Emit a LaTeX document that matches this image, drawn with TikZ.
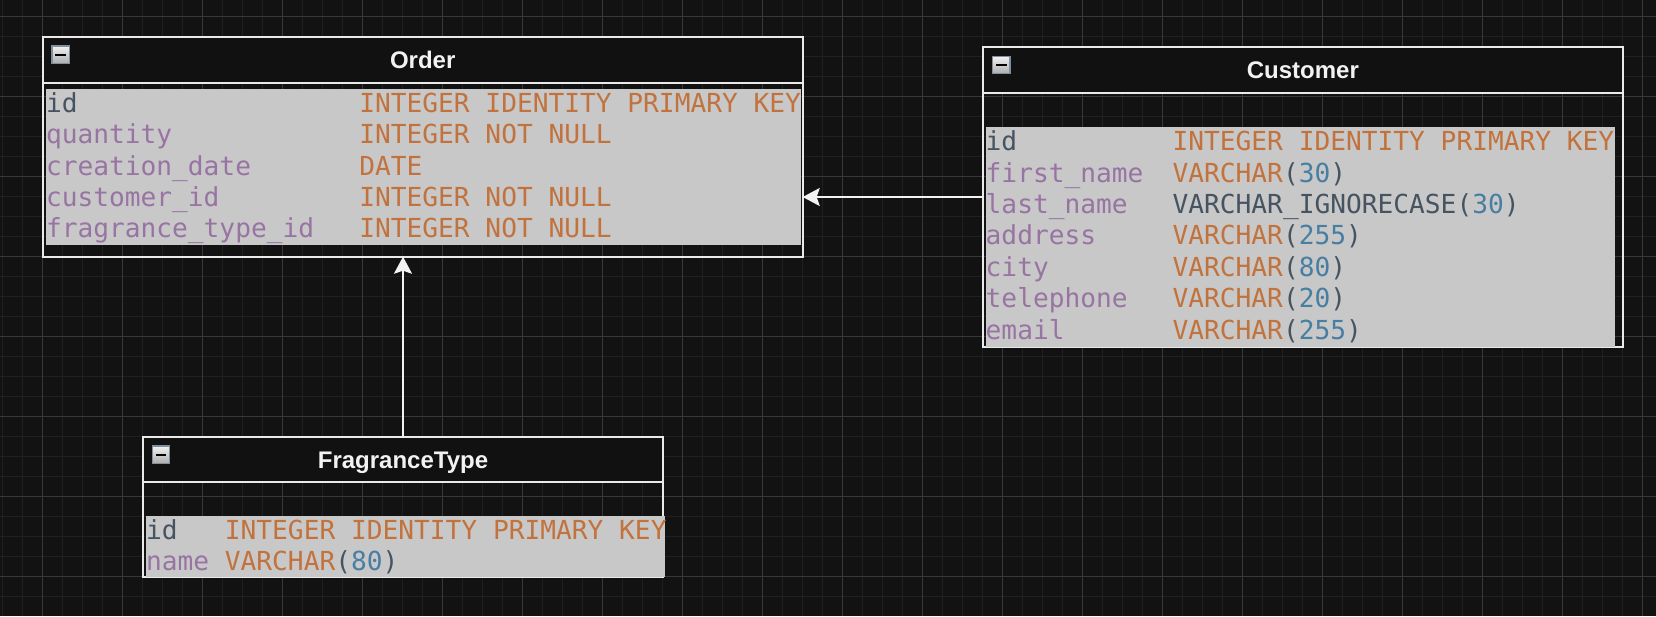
\documentclass[tikz,border=0pt]{standalone}
\usepackage{fontspec}
\setmainfont{Liberation Sans}
\newfontfamily\codefont{DejaVu Sans Mono}
\usetikzlibrary{arrows.meta,positioning}

\definecolor{canvas}{RGB}{18,18,18}
\definecolor{gridminor}{RGB}{32,32,32}
\definecolor{gridmajor}{RGB}{56,56,56}
\definecolor{headfill}{RGB}{17,17,17}
\definecolor{edge}{RGB}{234,234,234}
\definecolor{rowfill}{RGB}{200,200,200}
\definecolor{iconedge}{RGB}{128,142,158}
\definecolor{colname}{RGB}{152,116,163}
\definecolor{colid}{RGB}{70,84,98}
\definecolor{coltype}{RGB}{194,114,60}
\definecolor{colnum}{RGB}{72,126,162}

\newcommand{\sqlkey}[1]{\textcolor{colid}{#1}}
\newcommand{\sqlname}[1]{\textcolor{colname}{#1}}
\newcommand{\sqltype}[1]{\textcolor{coltype}{#1}}
\newcommand{\sqlsize}[2]{\textcolor{coltype}{#1}\textcolor{colid}{(}\textcolor{colnum}{#2}\textcolor{colid}{)}}

\begin{document}
\begin{tikzpicture}[x=1pt, y=-1pt,
    erbox/.style={rectangle, draw=edge, line width=2pt, inner sep=0pt, outer sep=0pt, anchor=north west},
    erbody/.style={rectangle, fill=rowfill, inner sep=0pt, outer sep=0pt, anchor=north west},
    erhead/.style={rectangle, draw=edge, fill=headfill, line width=2pt, inner sep=0pt, outer sep=0pt,
        anchor=north west, minimum height=46pt, text height=17.2pt, text depth=0pt,
        text={rgb,255:red,242;green,242;blue,242}, font=\bfseries\fontsize{24}{28}\selectfont},
    minusicon/.style={rectangle, anchor=north west, minimum size=17.5pt, inner sep=0pt, outer sep=0pt,
        draw=iconedge, line width=1.2pt, top color=white!90!gray, bottom color=gray!65,
        path picture={\fill[black] ([xshift=-5.3pt, yshift=-1pt]path picture bounding box.center)
            rectangle ([xshift=5.3pt, yshift=1pt]path picture bounding box.center);}},
    errow/.style={inner sep=0pt, outer sep=0pt, anchor=base west, font=\codefont\fontsize{26.2}{31}\selectfont},
    erlink/.style={draw={rgb,255:red,242;green,242;blue,242}, line width=2pt,
        -{Stealth[length=17pt, width=18pt, inset=3pt]}}]
        % Canvas
        \useasboundingbox (0,0) rectangle (1656,616);
        \fill[canvas] (0,0) rectangle (1656,616);
        \foreach \gx in {2.5,22.5,...,1656} \draw[gridminor, line width=1pt] (\gx,0) -- (\gx,616);
        \foreach \gy in {16.7,36.7,...,616} \draw[gridminor, line width=1pt] (0,\gy) -- (1656,\gy);
        \foreach \gx in {42.5,122.5,...,1656} \draw[gridmajor, line width=1pt] (\gx,0) -- (\gx,616);
        \foreach \gy in {16.7,96.7,...,616} \draw[gridmajor, line width=1pt] (0,\gy) -- (1656,\gy);
        % Order
        \node (order) [erbox, minimum width=760pt, minimum height=220pt] at (42.7,36.7) {};
        \node (order-body) [erbody, minimum width=755pt, minimum height=156pt] at (46,89) {};
        \node (order-head) [erhead, minimum width=760pt] at (42.7,36.7) {Order};
        \node (order-icon) [minusicon] at (52,46) {};
        \node (order-id) [errow] at (46,112.7) {\makebox[313.3pt][l]{\sqlkey{id}}\sqltype{INTEGER IDENTITY PRIMARY KEY}};
        \node (order-quantity) [errow] at (46,143.9) {\makebox[313.3pt][l]{\sqlname{quantity}}\sqltype{INTEGER NOT NULL}};
        \node (order-date) [errow] at (46,175.1) {\makebox[313.3pt][l]{\sqlname{creation\_date}}\sqltype{DATE}};
        \node (order-customer) [errow] at (46,206.3) {\makebox[313.3pt][l]{\sqlname{customer\_id}}\sqltype{INTEGER NOT NULL}};
        \node (order-fragrance) [errow] at (46,237.5) {\makebox[313.3pt][l]{\sqlname{fragrance\_type\_id}}\sqltype{INTEGER NOT NULL}};
        % Customer
        \node (customer) [erbox, minimum width=640.3pt, minimum height=300pt] at (982.7,47) {};
        \node (customer-body) [erbody, minimum width=629pt, minimum height=220pt] at (985.7,127) {};
        \node (customer-head) [erhead, minimum width=640.3pt] at (982.7,47) {Customer};
        \node (customer-icon) [minusicon] at (992.5,56.3) {};
        \node (customer-id) [errow] at (985.7,150.7) {\makebox[186.9pt][l]{\sqlkey{id}}\sqltype{INTEGER IDENTITY PRIMARY KEY}};
        \node (customer-first) [errow] at (985.7,182.1) {\makebox[186.9pt][l]{\sqlname{first\_name}}\sqlsize{VARCHAR}{30}};
        \node (customer-last) [errow] at (985.7,213.5) {\makebox[186.9pt][l]{\sqlname{last\_name}}\sqlkey{VARCHAR\_IGNORECASE(}\textcolor{colnum}{30}\sqlkey{)}};
        \node (customer-address) [errow] at (985.7,244.9) {\makebox[186.9pt][l]{\sqlname{address}}\sqlsize{VARCHAR}{255}};
        \node (customer-city) [errow] at (985.7,276.3) {\makebox[186.9pt][l]{\sqlname{city}}\sqlsize{VARCHAR}{80}};
        \node (customer-phone) [errow] at (985.7,307.7) {\makebox[186.9pt][l]{\sqlname{telephone}}\sqlsize{VARCHAR}{20}};
        \node (customer-email) [errow] at (985.7,339.1) {\makebox[186.9pt][l]{\sqlname{email}}\sqlsize{VARCHAR}{255}};
        % FragranceType
        \node (fragrance) [erbox, minimum width=520pt, minimum height=140pt] at (143,437.3) {};
        \node (fragrance-body) [erbody, minimum width=518.6pt, minimum height=61.3pt] at (146,516) {};
        \node (fragrance-head) [erhead, minimum width=520pt, minimum height=44.7pt] at (143,437.3) {FragranceType};
        \node (fragrance-icon) [minusicon] at (152.3,446) {};
        \node (fragrance-id) [errow] at (146,539.7) {\makebox[78.9pt][l]{\sqlkey{id}}\sqltype{INTEGER IDENTITY PRIMARY KEY}};
        \node (fragrance-name) [errow] at (146,570.4) {\makebox[78.9pt][l]{\sqlname{name}}\sqlsize{VARCHAR}{80}};
        % Arrow
        \draw[erlink] (customer.west) -- (customer.west -| order.east);
        \draw[erlink] (fragrance.north) -- (fragrance.north |- order.south);
\end{tikzpicture}
\end{document}
